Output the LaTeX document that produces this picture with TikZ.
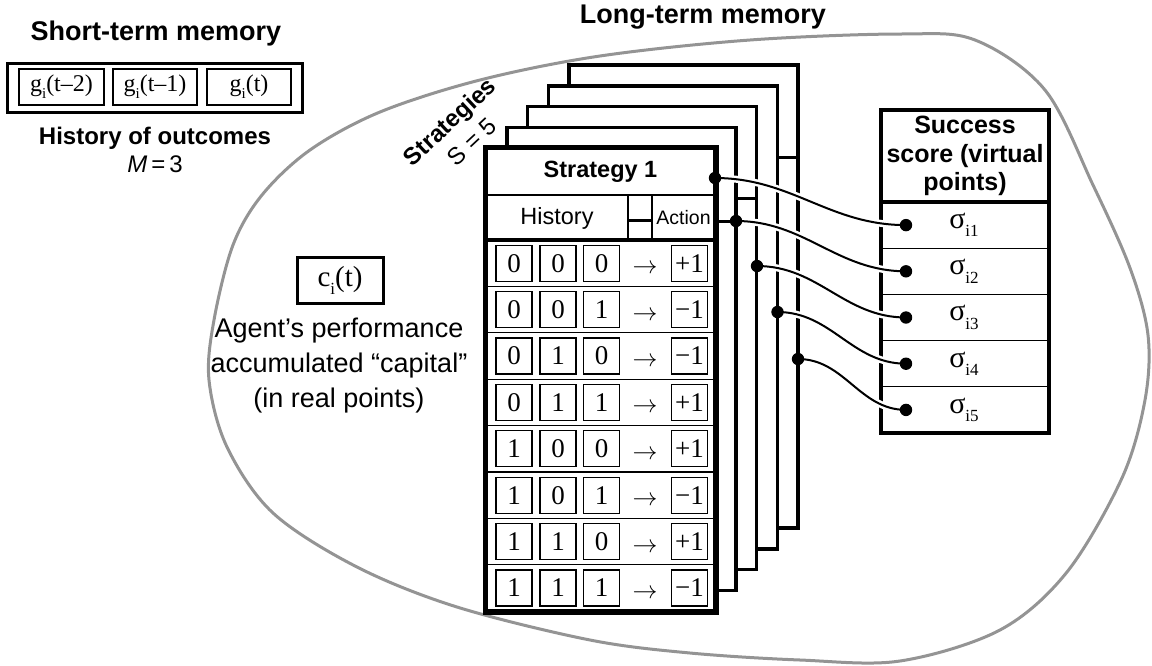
\documentclass[tikz,border=0pt]{standalone}
\usepackage{fontspec}
\setmainfont{Liberation Serif}
\setsansfont{Liberation Sans}
\newcommand{\sbi}[2][15]{\raisebox{-0.28em}{\fontsize{#1}{#1}\selectfont #2}}
\begin{document}
\begin{tikzpicture}[x=1pt,y=-1pt,
  bline/.style={line width=3.5pt},
  tline/.style={line width=1.2pt},
  cardbox/.style={draw, fill=white, line width=3.5pt, minimum width=229pt, minimum height=463pt, inner sep=0pt},
  cellb/.style={draw, line width=1.2pt, minimum width=36pt, minimum height=36pt, inner sep=0pt, font=\fontsize{27}{27}\selectfont},
  gbox/.style={draw, line width=1.2pt, minimum width=85pt, minimum height=36pt, inner sep=0pt, font=\fontsize{24}{24}\selectfont},
  conn/.style={line width=2pt, preaction={draw=white, line width=7pt}},
  blob/.style={draw=black!42, line width=3pt},
  titlef/.style={font=\sffamily\bfseries\fontsize{27}{30}\selectfont},
  subf/.style={font=\sffamily\bfseries\fontsize{24}{28}\selectfont},
  plainf/.style={font=\sffamily\fontsize{24}{28}\selectfont}
]
\useasboundingbox (0,0) rectangle (1152,665);

% outer blob (long-term memory)
\draw[blob] plot[smooth cycle, tension=0.55] coordinates {
 (900,34) (975,40) (1045,90) (1093,185) (1130,268) (1148,335) (1145,400)
 (1122,478) (1067,572) (1000,630) (900,661) (800,660) (690,653) (590,640)
 (457,607) (357,567) (273,513) (227,447) (209,380) (214,320) (233,245)
 (262,195) (310,150) (380,112) (480,80) (600,56) (750,40)};

\node[titlef] (ltm) at (703,17) {Long-term memory};

% short-term memory
\node[titlef] (stmt) at (156,34) {Short-term memory};
\node[draw, line width=3pt, minimum width=295pt, minimum height=49pt, inner sep=0pt] (stm) at (154.5,87.5) {};
\node[gbox] (g1) at (61.5,87) {g\sbi{i}(t–2)};
\node[gbox, minimum width=84pt] (g2) at (155,87) {g\sbi{i}(t–1)};
\node[gbox, minimum width=84pt] (g3) at (249,87) {g\sbi{i}(t)};
\node[subf] (hist) at (155,138) {History of outcomes};
\node[plainf] (mm) at (155,164) {\textit{M}\,=\,3};

% capital
\node[draw, line width=3pt, minimum width=86pt, minimum height=46pt, inner sep=0pt, font=\fontsize{29}{29}\selectfont] (cap) at (340,280) {c\sbi[17]{i}(t)};
\node[align=center, font=\sffamily\fontsize{27}{35}\selectfont] (agent) at (339,366)
  {Agent’s performance\\accumulated “capital”\\(in real points)};

% strategies label
\node[rotate=43, font=\sffamily\bfseries\fontsize{24}{24}\selectfont] (strl) at (451,123) {Strategies};
\node[rotate=43, font=\sffamily\fontsize{24}{24}\selectfont] (sl) at (472,142) {S = 5};

% back cards
\foreach \k in {5,4,3,2} {
  \node[cardbox] (card\k) at ({600.5+20.75*(\k-1)},{379.5-20.75*(\k-1)}) {};
}
\draw[line width=3pt] (777,157) -- (798,157);
\draw[line width=3pt] (736,198) -- (757,198);
\draw[line width=3pt] (715,221) -- (736,221);

% front card
\node[cardbox] (card1) at (600.5,379.5) {};
\node[font=\sffamily\bfseries\fontsize{23.5}{24}\selectfont] (s1) at (600.5,171.5) {Strategy 1};
\draw[tline] (486,195) -- (715,195);
\node[font=\sffamily\fontsize{23.5}{24}\selectfont] (histh) at (557,218) {History};
\node[font=\sffamily\fontsize{19.5}{20}\selectfont] (acth) at (683.5,218) {Action};
\draw[tline] (628,195) -- (628,240);
\draw[tline] (652,195) -- (652,240);
\draw[line width=3pt] (628,220) -- (652,220);
\draw[bline] (486,240) -- (715,240);

\foreach \i/\a/\b/\c/\act in {0/0/0/0/+1,1/0/0/1/−1,2/0/1/0/−1,3/0/1/1/+1,4/1/0/0/+1,5/1/0/1/−1,6/1/1/0/+1,7/1/1/1/−1} {
  \pgfmathsetmacro\yc{263.3+46.375*\i}
  \node[cellb] (r\i a) at (514,\yc) {\a};
  \node[cellb] (r\i b) at (558,\yc) {\b};
  \node[cellb] (r\i c) at (601.5,\yc) {\c};
  \node[font=\fontsize{25}{25}\selectfont] (r\i r) at (645,\yc+6) {$\rightarrow$};
  \node[cellb] (r\i d) at (689.5,\yc) {\act};
  \ifnum\i>0 \draw[tline] (486,\yc-23.2) -- (715,\yc-23.2); \fi
}
\draw[line width=3.5pt] (card1.north west) rectangle (card1.south east);

% success score box
\node[draw, line width=3.5pt, minimum width=168pt, minimum height=323pt, inner sep=0pt] (succ) at (965,271.5) {};
\node[align=center, font=\sffamily\bfseries\fontsize{25}{28.5}\selectfont] (succt) at (965,156) {Success\\score (virtual\\points)};
\draw[bline] (881,202) -- (1049,202);
\foreach \j in {1,2,3,4} { \draw[tline] (881,{202+46.2*\j}) -- (1049,{202+46.2*\j}); }
\foreach \j in {1,...,5} {
  \node[font=\fontsize{30}{30}\selectfont] (sig\j) at (964,{202+46.2*(\j-0.5)}) {σ\sbi[17]{i\j}};
}

% connectors
\coordinate (d1) at (715,178);
\coordinate (d2) at (736,221);
\coordinate (d3) at (757,266);
\coordinate (d4) at (777.5,312);
\coordinate (d5) at (798,359);
\foreach \j in {1,...,5} {
  \coordinate (e\j) at (906,{202+46.2*(\j-0.5)});
  \draw[conn] (d\j) to[out=0,in=180] (e\j);
}
\foreach \j in {1,...,5} {
  \fill (d\j) circle (6.2pt);
  \fill (e\j) circle (6.2pt);
}
\end{tikzpicture}
\end{document}
